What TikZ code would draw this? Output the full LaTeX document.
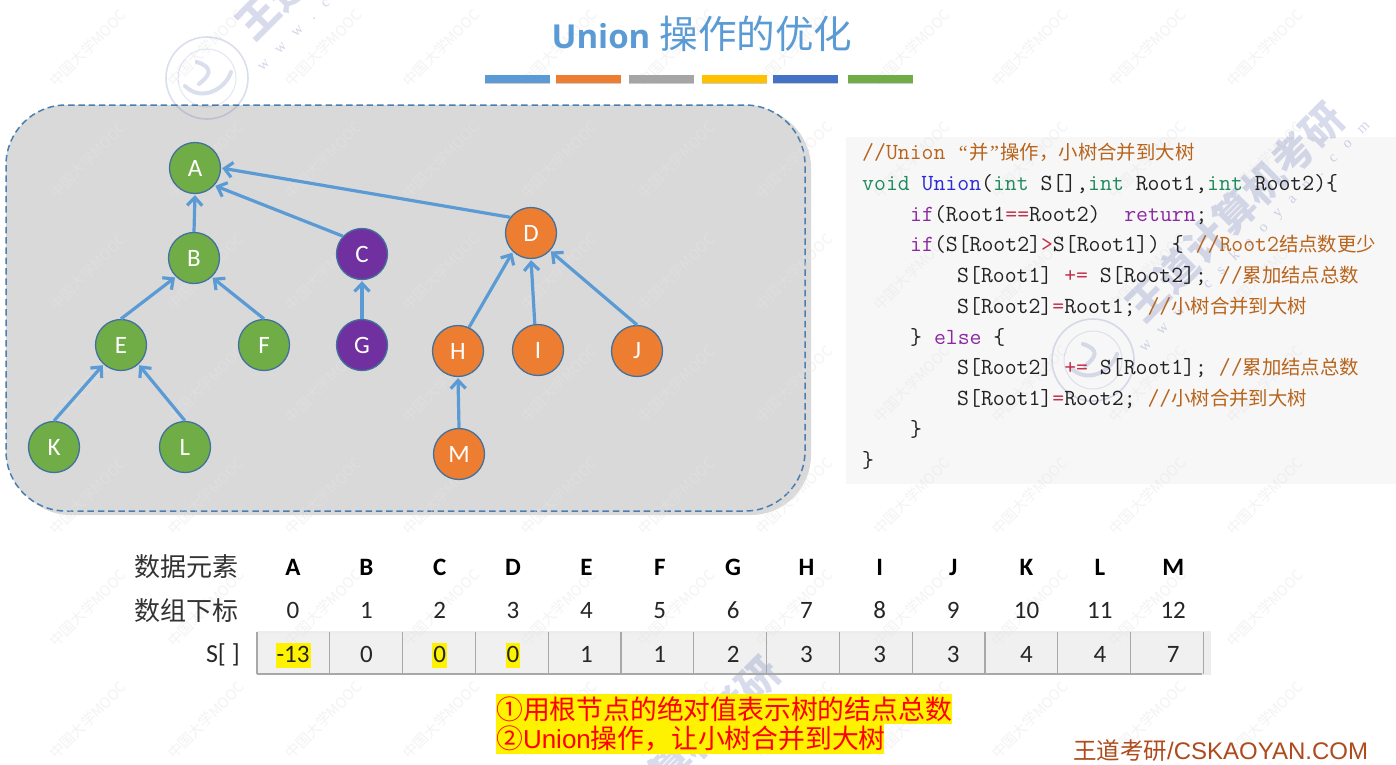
\documentclass[tikz,border=0pt]{standalone}
\usepackage{fontspec}
\usetikzlibrary{arrows.meta}
\setmainfont{Carlito}
\newfontfamily\cjk{Noto Sans CJK SC}
\newfontfamily\lib{Liberation Sans}
\newfontfamily\libs{Liberation Serif}
\newfontfamily\opensans{Open Sans}
\definecolor{blueline}{HTML}{5B9BD5}
\definecolor{nodeedge}{HTML}{41719C}
\definecolor{dashc}{HTML}{4A7EB0}
\definecolor{panelc}{HTML}{D9D9D9}
\definecolor{greenn}{HTML}{70AD47}
\definecolor{purplen}{HTML}{7030A0}
\definecolor{orangen}{HTML}{ED7D31}
\definecolor{cmt}{HTML}{B8641C}
\definecolor{kwg}{HTML}{1F8A5F}
\definecolor{kwp}{HTML}{8B2AA0}
\definecolor{fnb}{HTML}{2A2AD8}
\definecolor{opr}{HTML}{C2304A}
\definecolor{codetxt}{HTML}{222222}
\definecolor{wmark}{HTML}{4A5FA8}
\definecolor{tilec}{HTML}{E5E5E5}
\definecolor{footc}{HTML}{AE4A1C}
\definecolor{cellc}{HTML}{F0F0F0}
\definecolor{cellb}{HTML}{A8A8A8}
\newcommand{\fs}[1]{\fontsize{#1}{#1}\selectfont}
\newcommand{\zhc}[1]{{\cjk\fs{19.4}#1}}
\newcommand{\qt}[1]{\makebox[11.9pt]{\libs\fs{20}#1}}
\newcommand{\cm}[1]{\textcolor{cmt}{#1}}
\newcommand{\kg}[1]{\textcolor{kwg}{#1}}
\newcommand{\kp}[1]{\textcolor{kwp}{#1}}
\newcommand{\op}[1]{\textcolor{opr}{#1}}
\tikzset{
  treenode/.style={circle,draw=nodeedge,line width=1.3pt,minimum size=51pt,inner sep=0pt,text=white,font=\fs{25}},
  gn/.style={treenode,fill=greenn},
  pn/.style={treenode,fill=purplen},
  on/.style={treenode,fill=orangen},
  arr/.style={draw=blueline,line width=3.2pt,-{Straight Barb[length=8pt,width=15pt,line width=3.2pt]},shorten >=1pt},
  codeline/.style={anchor=base west,inner sep=0pt,font=\ttfamily\fs{23.1},text=codetxt},
  headcell/.style={anchor=base,inner sep=0pt,font=\bfseries\fs{25},text=black},
  idxcell/.style={anchor=base,inner sep=0pt,font=\fs{25},text=black!85},
  valcell/.style={anchor=base,inner sep=0pt,font=\fs{25},text=black!85},
  hl/.style={fill=yellow,inner xsep=1pt,inner ysep=0pt,text height=19pt,text depth=6pt},
  rowlabel/.style={anchor=base east,inner sep=0pt,font=\cjk\fs{26},text=black!80},
  cellline/.style={draw=cellb,line width=1.3pt},
  bar/.style={minimum width=65pt,minimum height=8pt,inner sep=0pt,anchor=north west},
  smallwm/.style={rotate=45,text=tilec,opacity=.45,font=\cjk\fs{14.5},inner sep=0pt},
  bigwm/.style={rotate=45,text=wmark,opacity=.22,font=\cjk\bfseries\fs{41},inner sep=0pt},
  urlwm/.style={rotate=45,text=wmark,opacity=.25,font=\libs\fs{15},inner sep=0pt},
}
\begin{document}
\begin{tikzpicture}[x=1pt,y=-1pt]
\useasboundingbox (0,0) rectangle (1396,764);
\fill[white] (0,0) rectangle (1396,764);

% backgrounds
\fill[panelc,rounded corners=60pt] (11,108) rectangle (811,515);
\draw[fill=panelc,draw=dashc,line width=1.5pt,dash pattern=on 6.5pt off 3.8pt,rounded corners=60pt] (6,105) rectangle (805,511);
\fill[black!3] (846,137) rectangle (1396,484);
\fill[black!7] (257,631) rectangle (1211,675);
\fill[cellc] (257,634) rectangle (1202,674);

% watermarks
\foreach \r in {-1,0,...,5}{
  \foreach \q in {0,...,10}{
    \node[smallwm] (wm\r\q) at (88+117.7*\q,160+112*\r) {中国大学MOOC};
  }
}
\node[bigwm] (big1) at (1235,212) {王道计算机考研};
\node[bigwm] (big2) at (345,-70) {王道计算机考研};
\node[bigwm] (big3) at (671,766) {王道计算机考研};
\node[urlwm] (url1) at (1255,237) {\spaceskip=13pt w w w . c s k a o y a n . c o m};
\node[urlwm] (url2) at (373,-44) {\spaceskip=13pt w w w . c s k a o y a n . c o m};
\foreach \cx/\cy in {207/78,1093/360}{
  \draw[wmark,opacity=.2,line width=1.6pt] (\cx,\cy) circle[radius=41pt];
  \draw[wmark,opacity=.15,line width=1pt] (\cx,\cy) circle[radius=29pt];
  \draw[wmark,opacity=.2,line width=4pt,line cap=round] (\cx-22,\cy+8) .. controls (\cx-6,\cy+24) and (\cx+18,\cy+12) .. (\cx+24,\cy-6);
  \draw[wmark,opacity=.2,line width=4pt,line cap=round] (\cx-10,\cy-16) .. controls (\cx+8,\cy-10) and (\cx+2,\cy-2) .. (\cx-8,\cy+6);
}

% title
\node[inner sep=0pt,anchor=base,text=blueline] (title) at (702,48) {{\opensans\bfseries\fs{33}Union}\hspace{9pt}{\cjk\fs{38.6}操作的优化}};

% colour bars
\foreach \x/\c [count=\i] in {485/5B9BD5,556/ED7D31,629/A5A5A5,702/FFC000,773/4472C4,848/70AD47}{
  \definecolor{barc}{HTML}{\c}
  \fill[black,opacity=.2] (\x,78) rectangle (\x+65,84);
  \node[bar,fill=barc] (bar\i) at (\x,75) {};
}

% tree
\node[gn] (A) at (195,168) {A};
\node[gn] (B) at (194,258) {B};
\node[pn] (C) at (362,254) {C};
\node[on] (D) at (531,233) {D};
\node[gn] (E) at (121,345) {E};
\node[gn] (F) at (264,345) {F};
\node[pn] (G) at (362,345) {G};
\node[on] (H) at (458,351) {H};
\node[on] (I) at (538,350) {I};
\node[on] (J) at (637,351) {J};
\node[gn] (K) at (54,447) {K};
\node[gn] (L) at (185,447) {L};
\node[on] (M) at (459,454) {M};
\draw[arr] (B.90) -- (A.-90);
\draw[arr] (C.137) -- (A.-42);
\draw[arr] (D.143) -- (A.0);
\draw[arr] (E.90) -- (B.226);
\draw[arr] (F.90) -- (B.-47);
\draw[arr] (G.90) -- (C.-90);
\draw[arr] (H.65) -- (D.226);
\draw[arr] (I.97) -- (D.-90);
\draw[arr] (J.90) -- (D.-43);
\draw[arr] (K.90) -- (E.228);
\draw[arr] (L.90) -- (E.-48);
\draw[arr] (M.90) -- (H.-90);

% code
\node[codeline] (c1) at (862,159) {\cm{//Union \qt{“}\zhc{并}\qt{”}\zhc{操作，小树合并到大树}}};
\node[codeline] (c2) at (862,190) {\kg{void} \textcolor{fnb}{Union}(\kg{int} S[],\kg{int} Root1,\kg{int} Root2)\{};
\node[codeline] (c3) at (910,221) {\kp{if}(Root1\op{==}Root2)\ \ \kp{return};};
\node[codeline] (c4) at (910,251) {\kp{if}(S[Root2]\op{>}S[Root1]) \{ \cm{//Root2\zhc{结点数更少}}};
\node[codeline] (c5) at (957,282) {S[Root1] \op{+=} S[Root2]; \cm{//\zhc{累加结点总数}}};
\node[codeline] (c6) at (957,313) {S[Root2]\op{=}Root1; \cm{//\zhc{小树合并到大树}}};
\node[codeline] (c7) at (910,344) {\} \kp{else} \{};
\node[codeline] (c8) at (957,374) {S[Root2] \op{+=} S[Root1]; \cm{//\zhc{累加结点总数}}};
\node[codeline] (c9) at (957,405) {S[Root1]\op{=}Root2; \cm{//\zhc{小树合并到大树}}};
\node[codeline] (c10) at (910,436) {\}};
\node[codeline] (c11) at (862,467) {\}};

% table
\foreach \i in {0,...,13}{
  \pgfmathsetmacro{\xc}{257+72.8*\i}
  \draw[cellline] (\xc,632) -- (\xc,674);
}
\draw[cellline] (257,674) -- (1202.4,674);
\node[rowlabel] (rl1) at (239,576) {数据元素};
\node[rowlabel] (rl2) at (239,620) {数组下标};
\node[anchor=base east,inner sep=0pt,font=\fs{26},text=black!85] (rl3) at (240,662) {S[ ]};
\foreach \h [count=\i from 0] in {A,B,C,D,E,F,G,H,I,J,K,L,M}{
  \pgfmathsetmacro{\xm}{293+73.35*\i}
  \node[headcell] (h\i) at (\xm,575) {\h};
  \node[idxcell] (n\i) at (\xm,618) {\i};
}
\foreach \i/\v in {1/0,4/1,5/1,6/2,7/3,8/3,9/3,10/4,11/4,12/7}{
  \pgfmathsetmacro{\xm}{293+73.35*\i}
  \node[valcell] (v\i) at (\xm,662) {\v};
}
\foreach \i/\v in {0/-13,2/0,3/0}{
  \pgfmathsetmacro{\xm}{293+73.35*\i}
  \node[valcell,hl] (v\i) at (\xm,662) {\v};
}

% note
\node[fill=yellow,anchor=north west,minimum width=456pt,minimum height=30pt,inner sep=0pt] (n1bg) at (496,694) {};
\node[fill=yellow,anchor=north west,minimum width=388pt,minimum height=30pt,inner sep=0pt] (n2bg) at (496,724) {};
\node[anchor=base west,inner sep=0pt,text=red,font=\cjk\fs{26.8}] (n1) at (496,719) {①用根节点的绝对值表示树的结点总数};
\node[anchor=base west,inner sep=0pt,text=red,font=\cjk\fs{26.8}] (n2) at (496,748) {②{\lib\fs{26}Union}操作，让小树合并到大树};

% footer
\node[anchor=base west,inner sep=0pt,text=footc,font=\lib\fs{24}] (foot) at (1073,759) {{\cjk\fs{23.5}王道考研}/CSKAOYAN.COM};
\end{tikzpicture}
\end{document}
